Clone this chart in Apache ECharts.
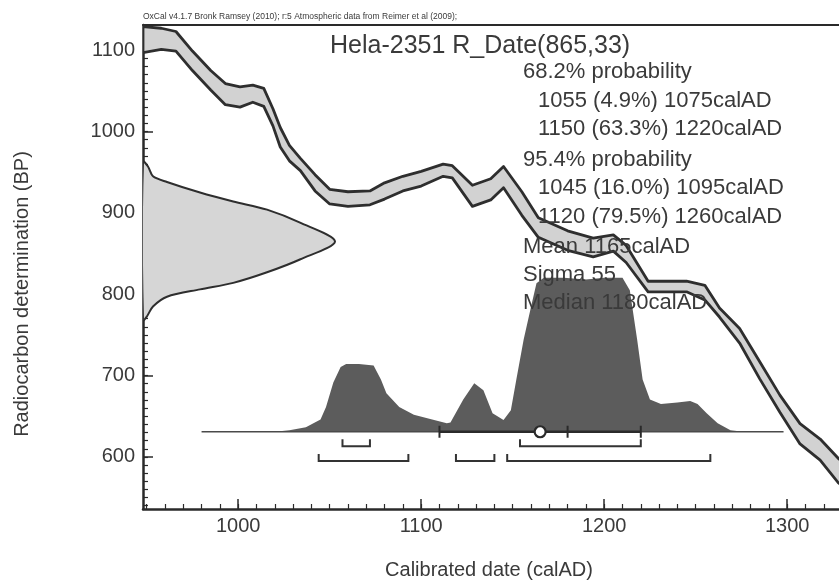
<!DOCTYPE html>
<html><head><meta charset="utf-8">
<script src="https://cdn.jsdelivr.net/npm/echarts@6/dist/echarts.min.js"></script>
<style>html,body{margin:0;padding:0;background:#fff}#c{width:839px;height:582px}</style>
</head><body><div id="c"></div>
<script>
// ---- Calibration curve (IntCal09) ----
const calYears = [948,958,966,975,985,993,1001,1008,1014,1019,1023,1028,1034,1042,1050,1060,1072,1080,1090,1100,1112,1117,1128,1138,1145,1155,1164,1180,1194,1205,1212,1224,1245,1255,1263,1274,1285,1296,1307,1318,1328,1340];
const calUpper = [1129,1127,1123,1099,1075,1059,1055,1057,1053,1028,1005,983,967,947,929,926,927,937,945,951,960,958,934,942,957,926,894,878,869,873,860,816,816,811,783,758,717,676,641,622,598,579];
const calLower = [1097,1101,1099,1075,1051,1033,1030,1036,1031,1007,981,964,952,927,911,908,910,917,927,933,945,943,908,916,931,897,870,854,846,853,839,803,803,793,772,740,696,655,616,596,568,549];

// ---- Radiocarbon date R_Date(865,33), relative density ----
const normBP      = [963,957,945,938,925,914,904,888,865,843,827,814,806,797,785,773,768];
const normDensity = [0,2.6,5.2,12.5,29.7,47,64.6,81.8,100,82,64.6,47,29.7,12.5,5.2,2.1,0];

// ---- Calibrated distribution, relative density ----
const distYears   = [980,1020,1028,1037,1045,1048,1052,1056,1059,1066,1074,1078,1081,1088,1096,1106,1114,1116,1123,1129,1134,1139,1145,1149,1152,1156,1160,1163,1167,1178,1190,1200,1210,1214,1218,1221,1225,1231,1240,1247,1251,1256,1262,1269,1276,1298];
const distDensity = [0,0,1,3,8,16,32,42,44,44,43,34,25,16,11,8,5.5,6,21,31.5,27,12,7.6,14,34,60,81,96.5,100,100,99,100,100,92,60,34,21,18,19,20,18,12,5.5,1,0,0];

// ---- Ranges & summary ----
const range68 = [[1057,1072],[1154,1220]];
const range95 = [[1044,1093],[1119,1140],[1147,1258]];
const meanVal = 1165, sigmaVal = 55, medianVal = 1180;

// ---- Tick labels ----
const majorX = [1000,1100,1200,1300];
const majorY = [600,700,800,900,1000,1100];
const minorX = []; for (let v = 950; v <= 1320; v += 10) minorX.push(v);
const minorY = []; for (let v = 540; v <= 1130; v += 10) minorY.push(v);

const textLines = [
  ['68.2% probability', 0],
  ['1055 (4.9%) 1075calAD', 1],
  ['1150 (63.3%) 1220calAD', 1],
  ['95.4% probability', 0],
  ['1045 (16.0%) 1095calAD', 1],
  ['1120 (79.5%) 1260calAD', 1],
  ['Mean 1165calAD', 0],
  ['Sigma 55', 0],
  ['Median 1180calAD', 0]
];

const FONT = '"Liberation Sans", Arial, sans-serif';
const TXT = '#3a3a3a';
const AX = '#2a2a2a';
const X_MIN = 948, X_MAX = 1328.3, Y_MIN = 536, Y_MAX = 1131;
const ROW68 = 613, ROW95 = 595;

const chart = echarts.init(document.getElementById('c'), null, {renderer: 'canvas'});
const gridRect = {left: 143, top: 25, right: 0, bottom: 73};
const plain = v => String(v);

const graphics = [
  {type:'text', x:143, y:17, z:100, style:{text:'OxCal v4.1.7 Bronk Ramsey (2010); r:5 Atmospheric data from Reimer et al (2009);', fill:TXT, font:'8.5px ' + FONT, verticalAlign:'middle'}},
  {type:'text', x:330, y:46, z:100, style:{text:'Hela-2351 R_Date(865,33)', fill:TXT, font:'25px ' + FONT, verticalAlign:'middle'}},
  {type:'text', x:489, y:570, z:100, style:{text:'Calibrated date (calAD)', fill:TXT, font:'20px ' + FONT, align:'center', verticalAlign:'middle'}},
  {type:'text', x:22, y:294, rotation:Math.PI/2, z:100, style:{text:'Radiocarbon determination (BP)', fill:TXT, font:'20px ' + FONT, align:'center', verticalAlign:'middle'}}
];
const lineYs = [72, 101, 129, 160, 188, 217, 247, 275, 303];
textLines.forEach((t, i) => {
  graphics.push({type:'text', x: t[1] ? 538 : 523, y: lineYs[i], z:100,
    style:{text:t[0], fill:TXT, font:'22px ' + FONT, verticalAlign:'middle'}});
});

const option = {
  animation: false,
  backgroundColor: '#fff',
  grid: [
    Object.assign({}, gridRect),
    Object.assign({}, gridRect)
  ],
  xAxis: [
    {gridIndex:0, type:'value', min:X_MIN, max:X_MAX, position:'bottom',
     axisLine:{show:true, onZero:false, lineStyle:{color:AX, width:2.5}},
     axisTick:{show:true, inside:true, length:10, customValues:majorX, lineStyle:{color:AX, width:1.5}},
     axisLabel:{show:true, customValues:majorX, formatter:plain, color:TXT, fontSize:20, fontFamily:FONT, margin:7},
     splitLine:{show:false}},
    {gridIndex:0, type:'value', min:0, max:362.5, show:false},
    {gridIndex:1, type:'value', min:X_MIN, max:X_MAX, position:'bottom',
     axisLine:{show:false},
     axisTick:{show:true, inside:true, length:5, customValues:minorX, lineStyle:{color:AX, width:1.2}},
     axisLabel:{show:false}, splitLine:{show:false}},
    {gridIndex:1, type:'value', min:X_MIN, max:X_MAX, position:'top',
     axisLine:{show:true, onZero:false, lineStyle:{color:AX, width:2}},
     axisTick:{show:false}, axisLabel:{show:false}, splitLine:{show:false}}
  ],
  yAxis: [
    {gridIndex:0, type:'value', min:Y_MIN, max:Y_MAX, position:'left',
     axisLine:{show:true, onZero:false, lineStyle:{color:AX, width:2.5}},
     axisTick:{show:true, inside:true, length:10, customValues:majorY, lineStyle:{color:AX, width:1.5}},
     axisLabel:{show:true, customValues:majorY, formatter:plain, color:TXT, fontSize:20, fontFamily:FONT, margin:8},
     splitLine:{show:false}},
    {gridIndex:0, type:'value', min:-50.2, max:264.3, show:false},
    {gridIndex:1, type:'value', min:Y_MIN, max:Y_MAX, position:'left',
     axisLine:{show:false},
     axisTick:{show:true, inside:true, length:5, customValues:minorY, lineStyle:{color:AX, width:1.2}},
     axisLabel:{show:false}, splitLine:{show:false}}
  ],
  series: [
    {type:'line', xAxisIndex:0, yAxisIndex:1, z:2, silent:true, symbol:'none',
     data: distYears.map((y, i) => [y, distDensity[i]]),
     lineStyle:{width:0}, areaStyle:{color:'#5c5c5c', opacity:1}},
    {type:'line', xAxisIndex:0, yAxisIndex:1, z:2, silent:true, symbol:'none',
     data: [[distYears[0], 0], [distYears[distYears.length - 1], 0]],
     lineStyle:{color:'#4a4a4a', width:1.5}},
    {type:'custom', xAxisIndex:0, yAxisIndex:0, z:3, silent:true, clip:true,
     data: [[calYears[0], calUpper[0]]],
     renderItem: (params, api) => {
       const pts = [];
       for (let i = 0; i < calYears.length; i++) pts.push(api.coord([calYears[i], calUpper[i]]));
       for (let i = calYears.length - 1; i >= 0; i--) pts.push(api.coord([calYears[i], calLower[i]]));
       return {type:'polygon', shape:{points:pts}, style:{fill:'#d2d2d2', stroke:'#2e2e2e', lineWidth:2.8, lineJoin:'round'}};
     }},
    {type:'custom', xAxisIndex:1, yAxisIndex:0, z:3, silent:true, clip:true,
     data: [[0, normBP[0]]],
     renderItem: (params, api) => {
       const pts = normBP.map((b, i) => api.coord([normDensity[i], b]));
       return {type:'polygon', shape:{points:pts, smooth:0.3}, style:{fill:'#d6d6d6', stroke:'#2e2e2e', lineWidth:2}};
     }},
    {type:'line', xAxisIndex:0, yAxisIndex:1, z:4, silent:true, symbol:'none',
     data: [[meanVal - sigmaVal, 0], [meanVal + sigmaVal, 0]],
     lineStyle:{color:'#2a2a2a', width:2.5}},
    {type:'custom', xAxisIndex:0, yAxisIndex:1, z:4, silent:true,
     data: [[meanVal - sigmaVal, 0], [medianVal, 0], [meanVal + sigmaVal, 0]],
     renderItem: (params, api) => {
       const p = api.coord([api.value(0), api.value(1)]);
       return {type:'line', shape:{x1:p[0], y1:p[1] - 6, x2:p[0], y2:p[1] + 6}, style:{stroke:'#2a2a2a', lineWidth:2}};
     }},
    {type:'scatter', xAxisIndex:0, yAxisIndex:1, z:5, silent:true, symbol:'circle', symbolSize:11,
     data: [[meanVal, 0]],
     itemStyle:{color:'#ffffff', borderColor:'#2a2a2a', borderWidth:2.2, opacity:1}},
    {type:'custom', xAxisIndex:0, yAxisIndex:0, z:4, silent:true,
     data: range68,
     renderItem: (params, api) => {
       const p1 = api.coord([api.value(0), ROW68]);
       const p2 = api.coord([api.value(1), ROW68]);
       return {type:'polyline', shape:{points:[[p1[0], p1[1] - 7], p1, p2, [p2[0], p2[1] - 7]]}, style:{stroke:'#333', lineWidth:2, fill:null}};
     }},
    {type:'custom', xAxisIndex:0, yAxisIndex:0, z:4, silent:true,
     data: range95,
     renderItem: (params, api) => {
       const p1 = api.coord([api.value(0), ROW95]);
       const p2 = api.coord([api.value(1), ROW95]);
       return {type:'polyline', shape:{points:[[p1[0], p1[1] - 7], p1, p2, [p2[0], p2[1] - 7]]}, style:{stroke:'#333', lineWidth:2, fill:null}};
     }}
  ],
  graphic: graphics
};
chart.setOption(option);
</script>
</body></html>
